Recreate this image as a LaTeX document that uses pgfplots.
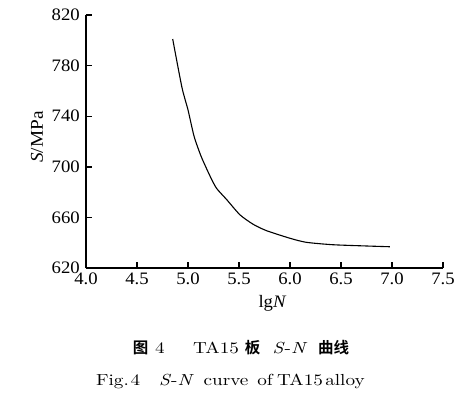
\documentclass[border=0pt]{standalone}
\usepackage{fontspec}
\newfontfamily\tf{Liberation Serif}[FakeStretch=1.07]
\newfontfamily\capw{lmroman10-regular.otf}[ItalicFont=lmroman10-italic.otf, FakeStretch=1.2]
\newfontfamily\cjk{Noto Sans CJK SC}[BoldFont={Noto Sans CJK SC Bold}]
\usepackage{pgfplots}
\pgfplotsset{compat=1.18}
\begin{document}
\begin{tikzpicture}[x=1pt,y=1pt]
\path[use as bounding box] (-86,-129) rectangle (388,268);
\begin{axis}[
  at={(0,0)}, anchor=south west,
  scale only axis, width=357pt, height=253pt,
  xmin=4, xmax=7.5, ymin=620, ymax=820,
  xtick={4,4.5,...,7.5}, ytick={620,660,...,820},
  axis lines=left, axis line style={-, line width=1.4pt},
  tick align=inside, major tick length=6pt,
  tick style={line width=1.4pt, black},
  /pgf/number format/assume math mode=true,
  every tick label/.append style={font=\tf\fontsize{17.5}{19}\selectfont, inner sep=1pt},
  x tick label style={/pgf/number format/fixed, /pgf/number format/fixed zerofill, /pgf/number format/precision=1, yshift=-4pt},
  yticklabel style={xshift=-5pt},
  clip=false,
]
\addplot[black, line width=1.1pt, smooth, tension=0.4] coordinates {
(4.85,801) (4.94,763) (5.00,745) (5.06,724) (5.13,708) (5.22,692) (5.28,683)
(5.38,674) (5.51,662) (5.64,654.5) (5.77,649.5) (6.00,643.5) (6.16,640.3)
(6.42,638.4) (6.75,637.4) (6.98,636.8)
};
\end{axis}
\node[font=\tf\fontsize{17.5}{19}\selectfont, anchor=base, inner sep=0pt] at (186.5,-39) {lg\textit{N}};
\node[rotate=90, font=\tf\fontsize{18}{20}\selectfont] at (-49,131) {\textit{S}/MPa};
% caption line 1
\begin{scope}[every node/.style={inner sep=0pt, anchor=base, font=\capw\fontsize{16}{18}\selectfont}]
\node at (54.5,-85) {\cjk\bfseries\fontsize{15.5}{17}\selectfont 图};
\node at (74,-85) {4};
\node at (130,-85) {TA15};
\node at (166.5,-85) {\cjk\bfseries\fontsize{15.5}{17}\selectfont 板};
\node at (204,-85) {\textit{S}-\textit{N}};
\node at (247.5,-85) {\cjk\bfseries\fontsize{15.5}{17}\selectfont 曲线};
\end{scope}
% caption line 2
\begin{scope}[every node/.style={inner sep=0pt, anchor=base, font=\capw\fontsize{16}{18}\selectfont}]
\node at (26.5,-117) {Fig.};
\node at (49.5,-117) {4};
\node at (90.5,-117) {\textit{S}-\textit{N}};
\node at (140,-117) {curve};
\node at (179,-117) {of};
\node at (214,-117) {TA15};
\node at (259,-117) {alloy};
\end{scope}
\end{tikzpicture}
\end{document}
